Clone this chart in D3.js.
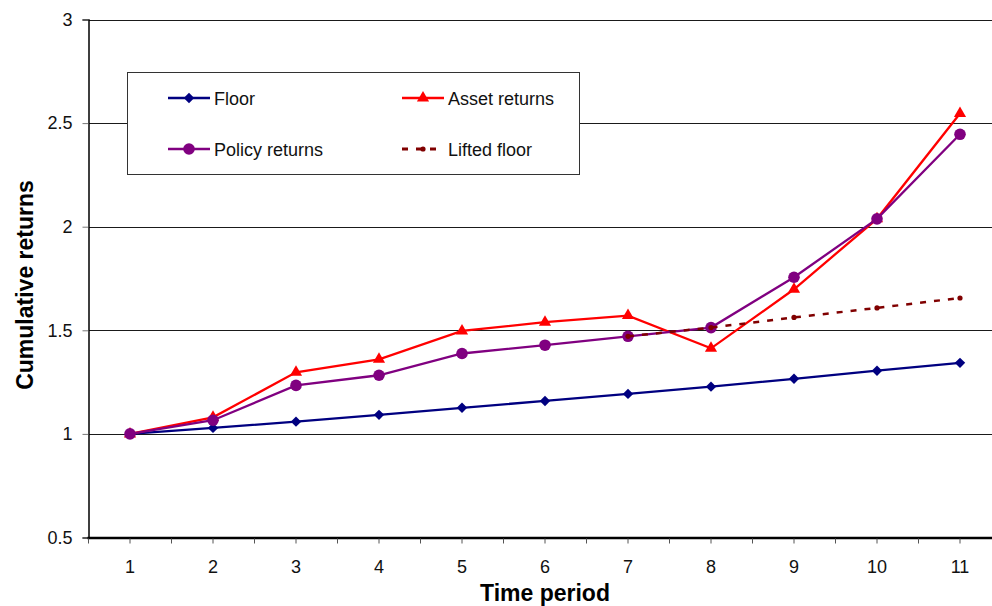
<!DOCTYPE html>
<html>
<head>
<meta charset="utf-8">
<script src="https://cdn.jsdelivr.net/npm/d3@7"></script>
<style>
  html, body { margin: 0; padding: 0; background: #fff; }
  svg { display: block; font-family: "Liberation Sans", Arial, sans-serif; }
</style>
</head>
<body>
<svg id="chart" width="992" height="606"></svg>
<script>
// ---- data ----
const periods = [1, 2, 3, 4, 5, 6, 7, 8, 9, 10, 11];
const floorValues  = [1, 1.029, 1.059, 1.092, 1.126, 1.159, 1.193, 1.228, 1.266, 1.305, 1.343];
const assetValues  = [1, 1.080, 1.297, 1.360, 1.497, 1.539, 1.571, 1.413, 1.698, 2.038, 2.546];
const policyValues = [1, 1.066, 1.234, 1.283, 1.388, 1.428, 1.471, 1.513, 1.756, 2.038, 2.446];
const liftedPeriods = [7, 8, 9, 10, 11];
const liftedValues  = [1.471, 1.513, 1.562, 1.608, 1.656];
const yTicks = [0.5, 1, 1.5, 2, 2.5, 3];
const seriesNames = ["Floor", "Asset returns", "Policy returns", "Lifted floor"];

// ---- layout ----
const svg = d3.select("#chart");
const plotLeft = 88.5, plotRight = 1001.5, plotTop = 19.5, plotBottom = 537.5;

const x = d3.scaleBand().domain(periods).range([plotLeft, plotRight]).paddingInner(0).paddingOuter(0);
const cx = d => x(d) + x.bandwidth() / 2;
const y = d3.scaleLinear().domain([0.5, 3]).range([plotBottom, plotTop]);

// gridlines
svg.append("g").selectAll("line").data(yTicks.filter(v => v > 0.5)).join("line")
  .attr("x1", plotLeft).attr("x2", 992)
  .attr("y1", d => Math.round(y(d)) + 0.5).attr("y2", d => Math.round(y(d)) + 0.5)
  .attr("stroke", "#1a1a1a").attr("stroke-width", 1);

// y axis
const yAxis = svg.append("g").attr("transform", `translate(${plotLeft},0)`)
  .call(d3.axisLeft(y).tickValues(yTicks).tickFormat(d3.format("")).tickSize(6).tickPadding(10));
yAxis.select(".domain").attr("stroke", "#000").attr("stroke-width", 1.5);
yAxis.selectAll(".tick line").attr("stroke", "#777");
yAxis.selectAll(".tick text").attr("font-size", 18).attr("fill", "#111")
  .attr("font-family", "Liberation Sans, Arial, sans-serif");

// x axis: labels at centres, tick marks at centres and band edges
const xAxis = svg.append("g").attr("transform", `translate(0,${plotBottom})`);
xAxis.append("line").attr("x1", plotLeft - 1).attr("x2", 992).attr("y1", 0.5).attr("y2", 0.5)
  .attr("stroke", "#000").attr("stroke-width", 2.5);
const tickPos = [];
periods.forEach(p => { tickPos.push(x(p)); tickPos.push(cx(p)); });
tickPos.push(x(periods[periods.length - 1]) + x.bandwidth());
xAxis.selectAll("line.tk").data(tickPos).join("line").attr("class", "tk")
  .attr("x1", d => d).attr("x2", d => d).attr("y1", 1).attr("y2", 6)
  .attr("stroke", "#555").attr("stroke-width", 1);
xAxis.selectAll("text").data(periods).join("text")
  .attr("x", d => cx(d)).attr("y", 35).attr("text-anchor", "middle")
  .attr("font-size", 18).attr("fill", "#111").text(d => d);

// titles
svg.append("text").attr("transform", `translate(33,285) rotate(-90)`)
  .attr("text-anchor", "middle").attr("font-size", 23).attr("font-weight", "bold")
  .text("Cumulative returns");
svg.append("text").attr("x", 545).attr("y", 601)
  .attr("text-anchor", "middle").attr("font-size", 23).attr("font-weight", "bold")
  .text("Time period");

// markers
const diamond = d3.symbol().type(d3.symbolSquare).size(54);
const triangle = d3.symbol().type(d3.symbolTriangle).size(64);

function drawSeries(xs, vals, color, opts) {
  const g = svg.append("g");
  const pts = xs.map((p, i) => [cx(p), y(vals[i])]);
  g.append("path").attr("d", d3.line()(pts)).attr("fill", "none")
    .attr("stroke", color).attr("stroke-width", opts.width || 2.3)
    .attr("stroke-dasharray", opts.dash || null);
  pts.forEach(pt => drawMarker(g, pt, color, opts.marker));
}
function drawMarker(g, pt, color, marker) {
  if (marker === "diamond") {
    g.append("path").attr("d", diamond).attr("transform", `translate(${pt[0]},${pt[1]}) rotate(45)`).attr("fill", color);
  } else if (marker === "triangle") {
    g.append("path").attr("d", triangle).attr("transform", `translate(${pt[0]},${pt[1]})`).attr("fill", color);
  } else if (marker === "circle") {
    g.append("circle").attr("cx", pt[0]).attr("cy", pt[1]).attr("r", 5.8).attr("fill", color);
  } else if (marker === "small") {
    g.append("circle").attr("cx", pt[0]).attr("cy", pt[1]).attr("r", 2.6).attr("fill", color);
  }
}

const colors = ["#000080", "#ff0000", "#800080", "#800000"];
drawSeries(periods, floorValues, colors[0], { marker: "diamond" });
drawSeries(periods, assetValues, colors[1], { marker: "triangle" });
drawSeries(periods, policyValues, colors[2], { marker: "circle" });
drawSeries(liftedPeriods, liftedValues, colors[3], { marker: "small", dash: "6,8", width: 2.5 });

// legend
const lg = svg.append("g");
lg.append("rect").attr("x", 127.5).attr("y", 72.5).attr("width", 452).attr("height", 102)
  .attr("fill", "#fff").attr("stroke", "#333").attr("stroke-width", 1);
const legendItems = [
  { name: seriesNames[0], color: colors[0], marker: "diamond", lx: 168, ly: 98 },
  { name: seriesNames[1], color: colors[1], marker: "triangle", lx: 402, ly: 98 },
  { name: seriesNames[2], color: colors[2], marker: "circle", lx: 168, ly: 149 },
  { name: seriesNames[3], color: colors[3], marker: "small", lx: 402, ly: 149, dash: "6,8" }
];
legendItems.forEach(it => {
  lg.append("line").attr("x1", it.lx).attr("x2", it.lx + 42).attr("y1", it.ly).attr("y2", it.ly)
    .attr("stroke", it.color).attr("stroke-width", it.dash ? 3 : 2.3).attr("stroke-dasharray", it.dash || null);
  drawMarker(lg, [it.lx + 21, it.ly], it.color, it.marker);
  lg.append("text").attr("x", it.lx + 46).attr("y", it.ly + 6.5)
    .attr("font-size", 18).attr("fill", "#111").text(it.name);
});
</script>
</body>
</html>
